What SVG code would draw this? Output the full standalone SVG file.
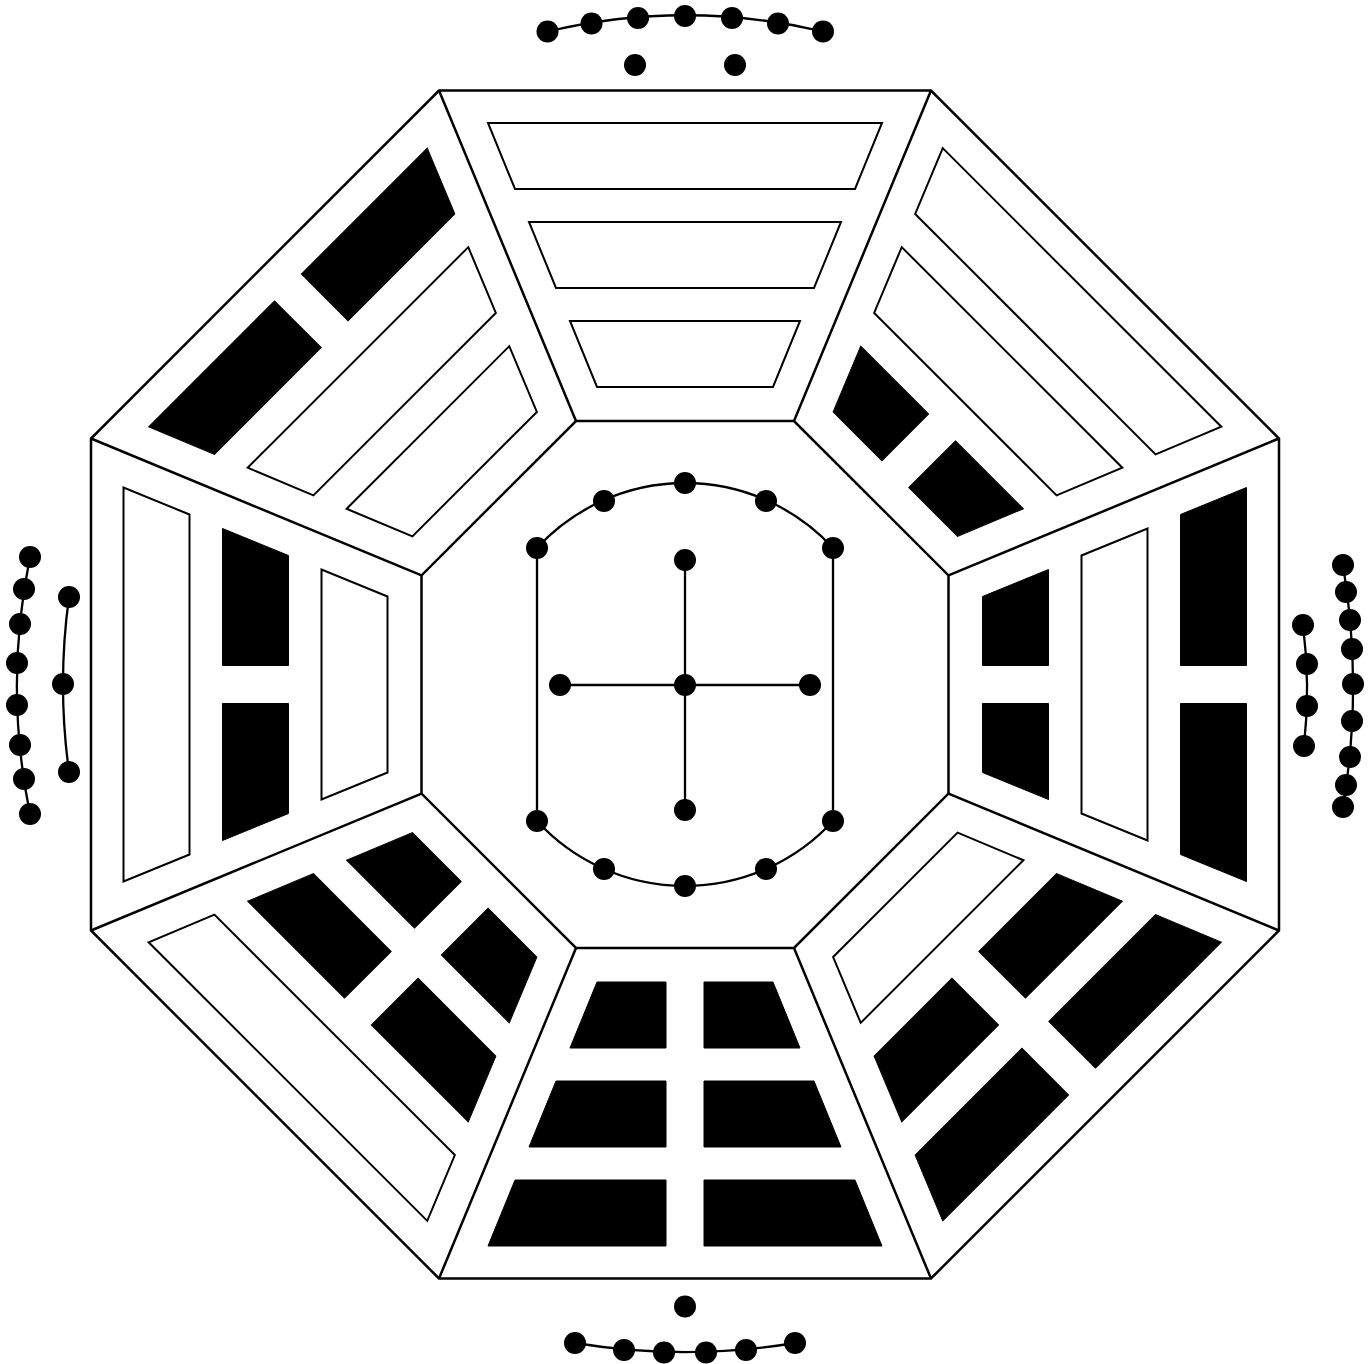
<svg xmlns="http://www.w3.org/2000/svg" width="1371" height="1364" viewBox="0 0 1371 1364">
<style>
.frame{fill:none;stroke:#000;stroke-width:2.5;stroke-linejoin:miter}
.yang{fill:#fff;stroke:#000;stroke-width:2}
.yin{fill:#000;stroke:#000;stroke-width:1}
.link{fill:none;stroke:#000;stroke-width:2.3}
.dot{fill:#000}
</style>
<defs>
<polygon id="yang1" class="yang" points="488,123 882,123 855,189 515,189"/>
<g id="yin1" class="yin"><polygon points="488,123 666,123 666,189 515,189"/><polygon points="704,123 882,123 855,189 704,189"/></g>
<polygon id="yang2" class="yang" points="529,222 841,222 814,288 556,288"/>
<g id="yin2" class="yin"><polygon points="529,222 666,222 666,288 556,288"/><polygon points="704,222 841,222 814,288 704,288"/></g>
<polygon id="yang3" class="yang" points="570,321 800,321 773,387 597,387"/>
<g id="yin3" class="yin"><polygon points="570,321 666,321 666,387 597,387"/><polygon points="704,321 800,321 773,387 704,387"/></g>
</defs>
<rect width="1371" height="1364" fill="#fff"/>
<g id="frame">
<polygon class="frame" points="439,90.5 931,90.5 1279,438.5 1279,930.5 931,1278.5 439,1278.5 91,930.5 91,438.5"/>
<polygon class="frame" points="576,421 794,421 948.5,575.4 948.5,793.6 794,948 576,948 421.5,793.6 421.5,575.4"/>
<path class="frame" d="M439,90.5L576,421M931,90.5L794,421M1279,438.5L948.5,575.4M1279,930.5L948.5,793.6M931,1278.5L794,948M439,1278.5L576,948M91,930.5L421.5,793.6M91,438.5L421.5,575.4"/>
</g>
<g id="trigram-top"><use href="#yang1"/><use href="#yang2"/><use href="#yang3"/></g>
<g id="trigram-topright" transform="rotate(45 685 684.5)"><use href="#yang1"/><use href="#yang2"/><use href="#yin3"/></g>
<g id="trigram-right" transform="rotate(90 685 684.5)"><use href="#yin1"/><use href="#yang2"/><use href="#yin3"/></g>
<g id="trigram-bottomright" transform="rotate(135 685 684.5)"><use href="#yin1"/><use href="#yin2"/><use href="#yang3"/></g>
<g id="trigram-bottom" transform="rotate(180 685 684.5)"><use href="#yin1"/><use href="#yin2"/><use href="#yin3"/></g>
<g id="trigram-bottomleft" transform="rotate(225 685 684.5)"><use href="#yang1"/><use href="#yin2"/><use href="#yin3"/></g>
<g id="trigram-left" transform="rotate(270 685 684.5)"><use href="#yang1"/><use href="#yin2"/><use href="#yang3"/></g>
<g id="trigram-topleft" transform="rotate(315 685 684.5)"><use href="#yin1"/><use href="#yang2"/><use href="#yang3"/></g>
<g id="connectors">
<path class="link" d="M537,548 A201,201 0 0 1 833,548 L833,821 A201,201 0 0 1 537,821 Z"/>
<path class="link" d="M685,560 L685,810 M560,685 L810,685"/>
<path class="link" d="M547.5,31.5 A599,599 0 0 1 823,31.5"/>
<path class="link" d="M575,1343 A677,677 0 0 0 795,1343"/>
<path class="link" d="M30,557 A641,641 0 0 0 30,814"/>
<path class="link" d="M69,597 A641,641 0 0 0 69,772"/>
<path class="link" d="M1343,565 A737,737 0 0 1 1343,807"/>
<path class="link" d="M1303,625 A516,516 0 0 1 1304,746"/>
</g>
<g id="dots-center" class="dot">
<circle cx="537" cy="548" r="11"/><circle cx="604" cy="501" r="11"/><circle cx="685" cy="483" r="11"/><circle cx="766" cy="501" r="11"/><circle cx="833" cy="548" r="11"/>
<circle cx="537" cy="821" r="11"/><circle cx="604" cy="869" r="11"/><circle cx="685" cy="886" r="11"/><circle cx="766" cy="869" r="11"/><circle cx="833" cy="821" r="11"/>
<circle cx="685" cy="560" r="11"/><circle cx="685" cy="685" r="11"/><circle cx="685" cy="810" r="11"/><circle cx="560" cy="685" r="11"/><circle cx="810" cy="685" r="11"/>
</g>
<g id="dots-top" class="dot">
<circle cx="547.5" cy="31.5" r="11"/><circle cx="591.5" cy="23.5" r="11"/><circle cx="638" cy="18" r="11"/><circle cx="685" cy="16" r="11"/><circle cx="732" cy="18" r="11"/><circle cx="778" cy="23.5" r="11"/><circle cx="823" cy="31.5" r="11"/>
<circle cx="635" cy="65" r="11"/><circle cx="735" cy="65" r="11"/>
</g>
<g id="dots-bottom" class="dot">
<circle cx="685" cy="1306.5" r="11"/>
<circle cx="575" cy="1343" r="11"/><circle cx="624" cy="1350" r="11"/><circle cx="664" cy="1352.5" r="11"/><circle cx="706" cy="1352.5" r="11"/><circle cx="746" cy="1350" r="11"/><circle cx="795" cy="1343" r="11"/>
</g>
<g id="dots-left" class="dot">
<circle cx="30" cy="557" r="11"/><circle cx="24" cy="589" r="11"/><circle cx="20" cy="624" r="11"/><circle cx="17" cy="663" r="11"/><circle cx="17" cy="705" r="11"/><circle cx="20" cy="745" r="11"/><circle cx="24" cy="779" r="11"/><circle cx="30" cy="814" r="11"/>
<circle cx="69" cy="597" r="11"/><circle cx="63" cy="684" r="11"/><circle cx="69" cy="772" r="11"/>
</g>
<g id="dots-right" class="dot">
<circle cx="1343" cy="565" r="11"/><circle cx="1346" cy="592" r="11"/><circle cx="1350" cy="620" r="11"/><circle cx="1352" cy="649" r="11"/><circle cx="1353" cy="684" r="11"/><circle cx="1352" cy="721" r="11"/><circle cx="1350" cy="757" r="11"/><circle cx="1346" cy="785" r="11"/><circle cx="1343" cy="807" r="11"/>
<circle cx="1303" cy="625" r="11"/><circle cx="1307" cy="664" r="11"/><circle cx="1307" cy="706" r="11"/><circle cx="1304" cy="746" r="11"/>
</g>
</svg>
